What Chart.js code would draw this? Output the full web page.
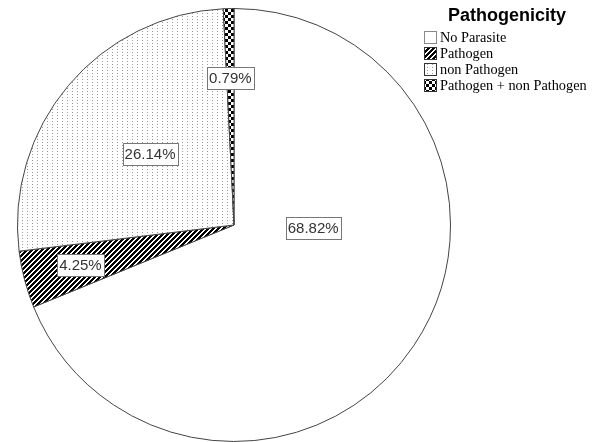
<!DOCTYPE html>
<html>
<head>
<meta charset="utf-8">
<script src="https://cdn.jsdelivr.net/npm/chart.js@4.4.0/dist/chart.umd.min.js"></script>
<style>
  html, body { margin: 0; padding: 0; background: #fff; overflow: hidden; }
  #wrap { width: 597px; height: 442px; }
</style>
</head>
<body>
<div id="wrap"><canvas id="pie" width="597" height="442"></canvas></div>
<script>
const categories = ['No Parasite', 'Pathogen', 'non Pathogen', 'Pathogen + non Pathogen'];
const percents = [68.82, 4.25, 26.14, 0.79];
const legendTitle = 'Pathogenicity';

// where each % box sits: shift from slice middle (deg) and fraction of radius
const labelShift = [-32, 0, 0, 0];
const labelDist = [0.366, 0.733, 0.507, 0.678];

function makeTile(w, h, paint) {
    const c = document.createElement('canvas');
    c.width = w; c.height = h;
    const g = c.getContext('2d');
    g.fillStyle = '#fff';
    g.fillRect(0, 0, w, h);
    paint(g);
    return g.createPattern(c, 'repeat');
}

const ctx = document.getElementById('pie').getContext('2d');

const stripes = makeTile(5, 5, g => {
    g.fillStyle = '#000';
    for (let x = 0; x < 5; x++)
        for (let y = 0; y < 5; y++)
            if ((x + y) % 5 < 3) g.fillRect(x, y, 1, 1);
});
const dots = makeTile(5, 3, g => {
    g.fillStyle = '#9a9a9a';
    g.fillRect(2, 1, 1, 1);
});
const checker = makeTile(6, 6, g => {
    g.fillStyle = '#000';
    g.fillRect(0, 0, 3, 3);
    g.fillRect(3, 3, 3, 3);
});

const fills = ['#ffffff', stripes, dots, checker];

const boxLabels = {
    id: 'boxLabels',
    afterDatasetsDraw(chart) {
        const c = chart.ctx;
        const arcs = chart.getDatasetMeta(0).data;
        c.save();
        c.font = '15px "Liberation Sans", Arial, sans-serif';
        c.textAlign = 'center';
        c.textBaseline = 'middle';
        arcs.forEach((arc, i) => {
            const a = (arc.startAngle + arc.endAngle) / 2 + labelShift[i] * Math.PI / 180;
            const r = arc.outerRadius * labelDist[i];
            const x = arc.x + Math.cos(a) * r;
            const y = arc.y + Math.sin(a) * r;
            const txt = percents[i].toFixed(2) + '%';
            const w = Math.round(c.measureText(txt).width + 4);
            const h = 22;
            const bx = Math.round(x - w / 2) + 0.5;
            const by = Math.round(y - h / 2) + 0.5;
            c.fillStyle = '#fff';
            c.fillRect(bx, by, w, h);
            c.strokeStyle = '#777';
            c.lineWidth = 1;
            c.strokeRect(bx, by, w, h);
            c.fillStyle = '#333';
            c.fillText(txt, x, y + 1);
        });
        c.restore();
    }
};

const sideLegend = {
    id: 'sideLegend',
    afterDraw(chart) {
        const c = chart.ctx;
        c.save();
        c.fillStyle = '#000';
        c.font = 'bold 18px "Liberation Sans", Arial, sans-serif';
        c.textAlign = 'center';
        c.textBaseline = 'alphabetic';
        c.fillText(legendTitle, 507, 21);
        c.font = '14.3px "Liberation Serif", "Times New Roman", serif';
        c.textAlign = 'left';
        c.textBaseline = 'middle';
        categories.forEach((name, i) => {
            const top = 31 + i * 16;
            c.fillStyle = fills[i];
            c.fillRect(424, top, 13, 13);
            c.strokeStyle = i === 0 ? '#888' : '#333';
            c.lineWidth = 1;
            c.strokeRect(424.5, top + 0.5, 12, 12);
            c.fillStyle = '#000';
            c.fillText(name, 440, top + 7);
        });
        c.restore();
    }
};

new Chart(ctx, {
    type: 'pie',
    data: {
        labels: categories,
        datasets: [{
            data: percents,
            backgroundColor: fills,
            borderColor: '#444',
            borderWidth: 1
        }]
    },
    options: {
        responsive: false,
        animation: false,
        layout: { padding: { left: 16, right: 145, top: 8, bottom: -2 } },
        plugins: {
            legend: { display: false },
            tooltip: { enabled: false }
        }
    },
    plugins: [boxLabels, sideLegend]
});
</script>
</body>
</html>
